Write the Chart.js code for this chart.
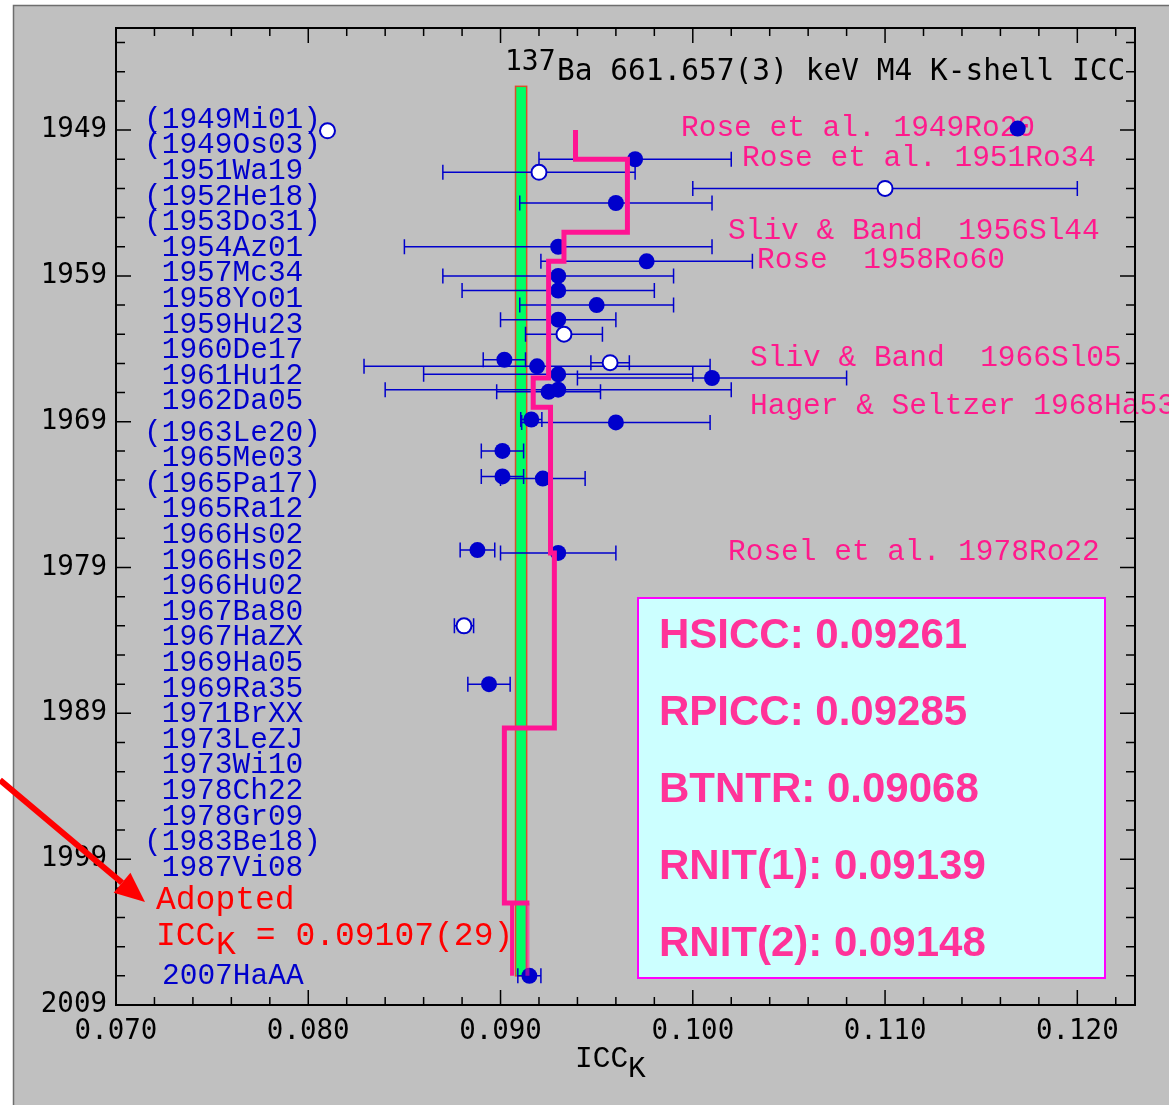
<!DOCTYPE html>
<html>
<head>
<meta charset="utf-8">
<title>137Ba 661.657 keV M4 K-shell ICC</title>
<script src="https://cdn.jsdelivr.net/npm/chart.js@4.4.1/dist/chart.umd.min.js"></script>
<style>
  html, body { margin: 0; padding: 0; background: #fff; }
  #wrap { width: 1169px; height: 1105px; }
</style>
</head>
<body>
<div id="wrap"><canvas id="iccChart" width="1169" height="1105"></canvas></div>
<script>
// reference keys, top to bottom in the left column (brackets = not used)
const refLabels = ['(1949Mi01)', '(1949Os03)', ' 1951Wa19', '(1952He18)', '(1953Do31)', ' 1954Az01',
  ' 1957Mc34', ' 1958Yo01', ' 1959Hu23', ' 1960De17', ' 1961Hu12', ' 1962Da05', '(1963Le20)',
  ' 1965Me03', '(1965Pa17)', ' 1965Ra12', ' 1966Hs02', ' 1966Hs02', ' 1966Hu02', ' 1967Ba80',
  ' 1967HaZX', ' 1969Ha05', ' 1969Ra35', ' 1971BrXX', ' 1973LeZJ', ' 1973Wi10', ' 1978Ch22',
  ' 1978Gr09', '(1983Be18)', ' 1987Vi08'];

// measured values, filled symbols
const measYear = [1948.9, 1951.0, 1954.0, 1957.0, 1958.0, 1959.0, 1960.0, 1961.0, 1962.0, 1964.75,
  1965.2, 1965.75, 1966.0, 1966.8, 1966.95, 1968.85, 1969.05, 1971.0, 1972.75, 1972.9, 1977.8,
  1978.0, 1987.0, 2007.0];
const measIcc = [0.1169, 0.0970, 0.0960, 0.0930, 0.0976, 0.0930, 0.0930, 0.0950, 0.0930, 0.0902,
  0.0919, 0.0930, 0.1010, 0.0930, 0.0925, 0.0916, 0.0960, 0.0901, 0.0901, 0.0922, 0.0888,
  0.0930, 0.0894, 0.0915];
const measErr = [0, 0.0050, 0.0050, 0.0080, 0.0055, 0.0060, 0.0050, 0.0040, 0.0030, 0.0011,
  0.0090, 0.0070, 0.0070, 0.0090, 0.0027, 0.00055, 0.0049, 0.0011, 0.0011, 0.0022, 0.0009,
  0.0030, 0.0011, 0.0006];

// open symbols (not used in the average)
const openYear = [1949.05, 1951.9, 1953.0, 1963.0, 1964.95, 1983.0];
const openIcc = [0.0810, 0.0920, 0.1100, 0.0933, 0.0957, 0.0881];
const openErr = [0, 0.0050, 0.0100, 0.0020, 0.0010, 0.0005];

// theory values vs year (step line)
const theoryYears = [1949, 1951, 1956, 1958, 1966, 1968, 1978, 1990, 2002];
const theoryIcc = [0.0939, 0.0966, 0.0933, 0.0925, 0.0917, 0.0926, 0.0928, 0.0902, 0.0915];
const branchIcc = [0.0906, 0.0914];
const branchYears = [2002, 2007];

// adopted value
const adoptedIcc = 0.09107;
const adoptedErr = 0.00029;
const bandYears = [1946, 2007];

// theory labels
const theoryNotes = ['Rose et al. 1949Ro20', 'Rose et al. 1951Ro34', 'Sliv & Band  1956Sl44',
  'Rose  1958Ro60', 'Sliv & Band  1966Sl05', 'Hager & Seltzer 1968Ha53', 'Rosel et al. 1978Ro22'];

// inset box
const boxNames = ['HSICC', 'RPICC', 'BTNTR', 'RNIT(1)', 'RNIT(2)'];
const boxValues = ['0.09261', '0.09285', '0.09068', '0.09139', '0.09148'];

const xTickLabels = ['0.070', '0.080', '0.090', '0.100', '0.110', '0.120'];
const yTickLabels = ['1949', '1959', '1969', '1979', '1989', '1999', '2009'];

const xMin = 0.070, xMax = 0.123, yMin = 1942, yMax = 2009;

const SERIF_MONO = '"Liberation Mono", "Courier New", monospace';
const SANS_MONO = '"DejaVu Sans Mono", monospace';
const BOLD_SANS = '"Liberation Sans", Arial, sans-serif';
const BLUE = '#0000cc';
const PINK = '#ff1a8c';

// build the step line from the theory arrays
const stepPoints = [];
for (let i = 0; i < theoryIcc.length; i++) {
  stepPoints.push({ x: theoryIcc[i], y: theoryYears[i] });
  if (i < theoryIcc.length - 1) stepPoints.push({ x: theoryIcc[i], y: theoryYears[i + 1] });
}
const measPoints = measYear.map((y, i) => ({ x: measIcc[i], y: y }));
const openPoints = openYear.map((y, i) => ({ x: openIcc[i], y: y }));

function drawErrorBars(chart, ds) {
  const ctx = chart.ctx, xs = chart.scales.x, ys = chart.scales.y;
  ctx.strokeStyle = BLUE;
  ctx.lineWidth = 1.5;
  ds.data.forEach((p, i) => {
    const e = ds.errs[i];
    if (!e) return;
    const x0 = xs.getPixelForValue(p.x - e);
    const x1 = xs.getPixelForValue(p.x + e);
    const y = ys.getPixelForValue(p.y);
    ctx.beginPath();
    ctx.moveTo(x0, y); ctx.lineTo(x1, y);
    ctx.moveTo(x0, y - 7.5); ctx.lineTo(x0, y + 7.5);
    ctx.moveTo(x1, y - 7.5); ctx.lineTo(x1, y + 7.5);
    ctx.stroke();
  });
}

const figPlugin = {
  id: 'fig',
  beforeDraw(chart) {
    const ctx = chart.ctx;
    ctx.save();
    ctx.fillStyle = '#ffffff';
    ctx.fillRect(0, 0, chart.width, chart.height);
    ctx.fillStyle = '#c0c0c0';
    ctx.fillRect(13, 5, chart.width - 13, chart.height - 5);
    ctx.strokeStyle = '#6e6e6e';
    ctx.lineWidth = 1.5;
    ctx.beginPath();
    ctx.moveTo(13.5, chart.height); ctx.lineTo(13.5, 5.5); ctx.lineTo(chart.width, 5.5);
    ctx.stroke();
    ctx.restore();
  },
  beforeDatasetsDraw(chart) {
    const ctx = chart.ctx, xs = chart.scales.x, ys = chart.scales.y;
    ctx.save();
    // adopted band
    const bx0 = xs.getPixelForValue(adoptedIcc - adoptedErr);
    const bx1 = xs.getPixelForValue(adoptedIcc + adoptedErr);
    const by0 = ys.getPixelForValue(bandYears[0]);
    const by1 = ys.getPixelForValue(bandYears[1]);
    ctx.fillStyle = '#00ff66';
    ctx.fillRect(bx0, by0, bx1 - bx0, by1 - by0);
    ctx.strokeStyle = '#d8502a';
    ctx.lineWidth = 1.5;
    ctx.strokeRect(bx0, by0, bx1 - bx0, by1 - by0);

    // theory labels
    const notePos = [[681, 128], [742, 158], [728, 231], [757, 260], [750, 358], [750, 406], [728, 552]];
    ctx.font = '29.5px ' + SERIF_MONO;
    ctx.fillStyle = PINK;
    ctx.textBaseline = 'middle';
    ctx.textAlign = 'left';
    theoryNotes.forEach((t, i) => ctx.fillText(t, notePos[i][0], notePos[i][1]));

    chart.data.datasets.forEach(ds => { if (ds.errs) drawErrorBars(chart, ds); });
    ctx.restore();
  },
  afterDatasetsDraw(chart) {
    const ctx = chart.ctx, xs = chart.scales.x, ys = chart.scales.y;
    const a = chart.chartArea;
    ctx.save();

    // frame
    ctx.strokeStyle = '#000';
    ctx.lineWidth = 2;
    ctx.strokeRect(a.left, a.top, a.right - a.left, a.bottom - a.top);

    // ticks, inside on all four sides
    ctx.lineWidth = 1.5;
    ctx.beginPath();
    for (let i = 0; i <= 26; i++) {
      const x = xs.getPixelForValue(0.070 + i * 0.002);
      const len = i % 5 === 0 ? 15 : 8;
      ctx.moveTo(x, a.bottom); ctx.lineTo(x, a.bottom - len);
      ctx.moveTo(x, a.top); ctx.lineTo(x, a.top + len);
    }
    for (let yr = 1943; yr <= 2009; yr += 2) {
      const y = ys.getPixelForValue(yr);
      const len = (yr - 1949) % 10 === 0 ? 15 : 9;
      ctx.moveTo(a.left, y); ctx.lineTo(a.left + len, y);
      ctx.moveTo(a.right, y); ctx.lineTo(a.right - len, y);
    }
    ctx.stroke();

    // tick labels
    ctx.fillStyle = '#000';
    ctx.textBaseline = 'middle';
    ctx.font = '27.5px ' + SANS_MONO;
    ctx.textAlign = 'center';
    xTickLabels.forEach(t => ctx.fillText(t, xs.getPixelForValue(parseFloat(t)), 1032));
    ctx.textAlign = 'right';
    yTickLabels.forEach(t => ctx.fillText(t, 107, ys.getPixelForValue(parseFloat(t))));

    // axis title ICC_K
    ctx.textAlign = 'left';
    ctx.font = '29.5px ' + SERIF_MONO;
    ctx.fillText('ICC', 575, 1059);
    ctx.fillText('K', 628, 1069);

    // title
    ctx.font = '28px ' + SANS_MONO;
    ctx.fillText('137', 505, 63);
    ctx.font = '29.5px ' + SANS_MONO;
    ctx.fillText('Ba 661.657(3) keV M4 K-shell ICC', 557, 72);

    // reference keys
    ctx.font = '29.5px ' + SERIF_MONO;
    ctx.fillStyle = BLUE;
    refLabels.forEach((t, i) => {
      const y = 120 + 25.6 * i + (i >= 12 ? 5.5 : 0);
      ctx.fillText(t, 144, y);
    });
    ctx.fillText('2007HaAA', 162, 976);

    // adopted value
    ctx.fillStyle = '#ff0000';
    ctx.font = '33px ' + SERIF_MONO;
    ctx.fillText('Adopted', 156, 900);
    ctx.fillText('ICC', 156, 936);
    ctx.fillText('K', 216, 945);
    ctx.fillText(' = ' + adoptedIcc.toFixed(5) + '(' + Math.round(adoptedErr * 1e5) + ')', 236, 936);

    // inset box
    ctx.fillStyle = '#ccffff';
    ctx.fillRect(638, 598, 467, 380);
    ctx.strokeStyle = '#ff00ff';
    ctx.lineWidth = 2;
    ctx.strokeRect(638, 598, 467, 380);
    ctx.fillStyle = '#ff3399';
    ctx.font = 'bold 42px ' + BOLD_SANS;
    boxNames.forEach((n, i) => ctx.fillText(n + ': ' + boxValues[i], 659, 636 + 77 * i));

    ctx.restore();
  },
  afterDraw(chart) {
    // red pointer to the adopted value
    const ctx = chart.ctx;
    ctx.save();
    const tip = [145, 902], tail = [0, 780];
    const ang = Math.atan2(tip[1] - tail[1], tip[0] - tail[0]);
    const hl = 30, hw = 13;
    const bx = tip[0] - hl * Math.cos(ang), by = tip[1] - hl * Math.sin(ang);
    ctx.strokeStyle = '#ff0000';
    ctx.lineWidth = 6;
    ctx.beginPath();
    ctx.moveTo(tail[0], tail[1]); ctx.lineTo(bx, by);
    ctx.stroke();
    ctx.fillStyle = '#ff0000';
    ctx.beginPath();
    ctx.moveTo(tip[0], tip[1]);
    ctx.lineTo(bx + hw * Math.sin(ang), by - hw * Math.cos(ang));
    ctx.lineTo(bx - hw * Math.sin(ang), by + hw * Math.cos(ang));
    ctx.closePath();
    ctx.fill();
    ctx.restore();
  }
};

function draw() {
  new Chart(document.getElementById('iccChart'), {
    type: 'scatter',
    data: {
      datasets: [
        { label: 'theory', data: stepPoints, showLine: true, borderColor: '#ff1493', borderWidth: 5,
          borderJoinStyle: 'miter', pointRadius: 0, fill: false, order: 0 },
        { label: 'branch 1', data: branchYears.map(y => ({ x: branchIcc[0], y: y })), showLine: true,
          borderColor: '#ff1493', borderWidth: 4, pointRadius: 0, fill: false, order: 0 },
        { label: 'branch 2', data: branchYears.map(y => ({ x: branchIcc[1], y: y })), showLine: true,
          borderColor: 'rgba(255,20,147,0.55)', borderWidth: 4, pointRadius: 0, fill: false, order: 0 },
        { label: 'measured', data: measPoints, errs: measErr, pointRadius: 8, pointBackgroundColor: BLUE,
          pointBorderWidth: 0, order: 1 },
        { label: 'not used', data: openPoints, errs: openErr, pointRadius: 7.5, pointBackgroundColor: '#ffffff',
          pointBorderColor: BLUE, pointBorderWidth: 2, order: 2 }
      ]
    },
    options: {
      responsive: false,
      animation: false,
      devicePixelRatio: 1,
      events: [],
      layout: { padding: { left: 116, right: 34, top: 28, bottom: 100 } },
      scales: {
        x: { type: 'linear', min: xMin, max: xMax, display: false },
        y: { type: 'linear', min: yMin, max: yMax, reverse: true, display: false }
      },
      plugins: { legend: { display: false }, tooltip: { enabled: false } }
    },
    plugins: [figPlugin]
  });
}

Promise.all([
  document.fonts.load('29px "Liberation Mono"'),
  document.fonts.load('27px "DejaVu Sans Mono"'),
  document.fonts.load('bold 42px "Liberation Sans"')
]).then(draw, draw);
</script>
</body>
</html>
